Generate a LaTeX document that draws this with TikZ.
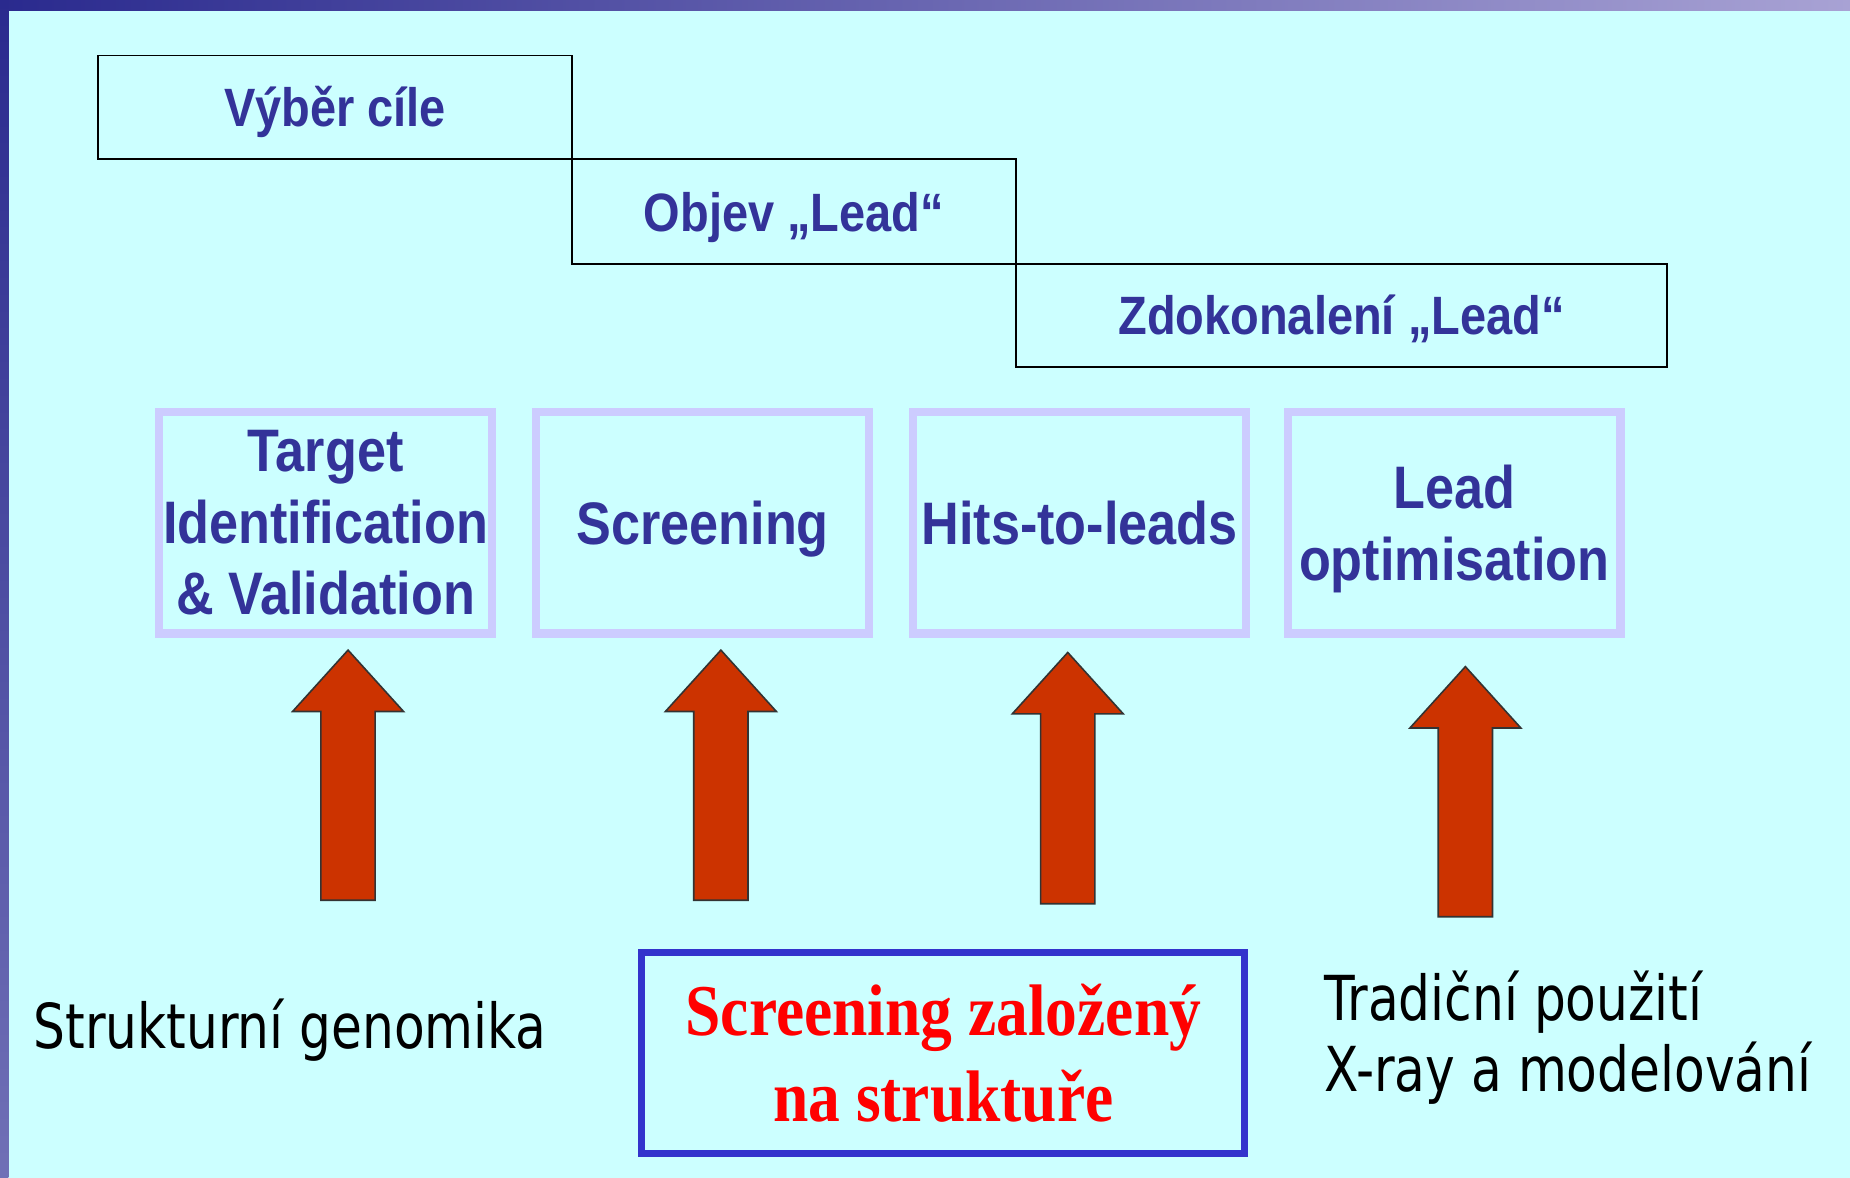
\documentclass[tikz,border=0pt]{standalone}
\usepackage{fontspec}
\newfontfamily\hfont[FakeStretch=0.87]{Liberation Sans}
\newfontfamily\tfont[FakeStretch=0.87]{Liberation Serif}
\newfontfamily\cfont[FakeStretch=0.81]{DejaVu Sans}
\definecolor{bgcyan}{HTML}{CCFFFF}
\definecolor{navytext}{HTML}{333399}
\definecolor{lavender}{HTML}{CCCCFF}
\definecolor{arrowred}{HTML}{CC3300}
\definecolor{boxblue}{HTML}{3333CC}
\definecolor{framedark}{HTML}{2A2A8E}
\definecolor{framelight}{HTML}{A8A2D4}
\definecolor{framemid}{HTML}{7070B6}
\tikzset{
  phasebox/.style={draw=black, line width=0.9pt, inner sep=0pt, text=navytext,
    text height=19.3pt, text depth=0pt,
    font=\hfont\bfseries\fontsize{27}{32}\selectfont},
  stagebox/.style={draw=lavender, line width=4.1pt, inner sep=0pt, text=navytext,
    minimum width=166.4pt, minimum height=110.9pt, align=center,
    font=\hfont\bfseries\fontsize{30}{35.6}\selectfont},
  oneline/.style={text height=21.5pt, text depth=0pt},
  keybox/.style={draw=boxblue, line width=3.5pt, inner sep=0pt, text=red,
    minimum width=301.5pt, minimum height=100.9pt, align=center,
    font=\tfont\bfseries\fontsize{36.5}{42.9}\selectfont},
  note/.style={inner sep=0pt, align=left, text=black,
    font=\cfont\fontsize{31}{35.4}\selectfont},
  blockarrow/.style={fill=arrowred, draw=black!80, line width=0.8pt, line join=miter}
}
\newcommand{\uparrowshape}[3]{% center x, tip y, bottom y
  \draw[blockarrow] (#1,#2) -- (#1+47,#2+52) -- (#1+23,#2+52) -- (#1+23,#3)
    -- (#1-23,#3) -- (#1-23,#2+52) -- (#1-47,#2+52) -- cycle;}
\begin{document}
\begin{tikzpicture}[x=0.59pt,y=-0.59pt]
\useasboundingbox (0,0) rectangle (1568,998);
\fill[bgcyan] (0,0) rectangle (1568,998);
\shade[left color=framedark, right color=framelight] (0,0) rectangle (1568,9.3);
\shade[top color=framedark, bottom color=framemid] (0,0) rectangle (7,998);

% phase boxes
\node[phasebox, minimum width=237.2pt, minimum height=51.9pt] (vyber) at (284,91) {Výběr cíle};
\node[phasebox, minimum width=221.8pt, minimum height=52.5pt] (objev) at (673,179.5) {Objev „Lead“};
\node[phasebox, minimum width=325.7pt, minimum height=51.3pt] (zdok) at (1137,267.5) {Zdokonalení „Lead“};

% stage boxes
\node[stagebox] (target) at (276,443) {Target\\Identification\\\& Validation};
\node[stagebox, oneline] (screen) at (595.5,443) {Screening};
\node[stagebox, oneline] (hits) at (915,443) {Hits-to-leads};
\node[stagebox, text depth=0pt] (leadopt) at (1232.5,443) {Lead\\optimisation};

% arrows
\uparrowshape{295}{551}{763}
\uparrowshape{611}{551}{763}
\uparrowshape{905}{553}{766}
\uparrowshape{1242}{565}{777}

% bottom
\node[keybox] (sbs) at (799.5,892.5) {Screening založený\\na struktuře};
\node[note, anchor=base west] (genom) at (28,889) {Strukturní genomika};
\node[note, anchor=base west] (trad) at (1122,865) {Tradiční použití};
\node[note, anchor=base west] (xray) at (1122,925) {X-ray a modelování};
\end{tikzpicture}
\end{document}
